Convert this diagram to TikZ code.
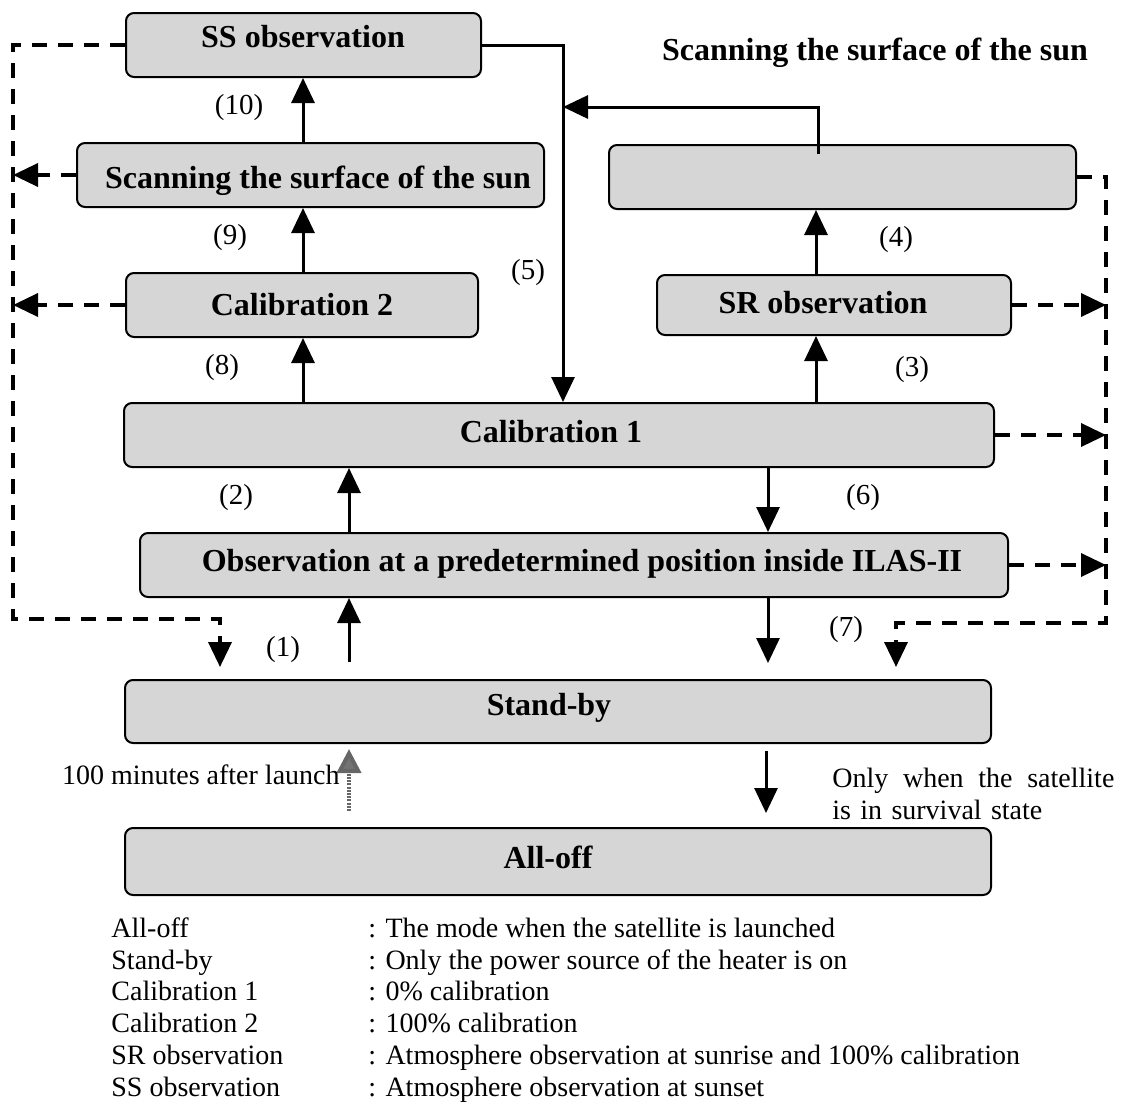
\documentclass[tikz,border=0pt]{standalone}
\usepackage{fontspec}
\setmainfont{Liberation Serif}
\usetikzlibrary{arrows.meta}
\definecolor{boxgray}{gray}{0.84}
\begin{document}
\begin{tikzpicture}[x=0.5pt,y=-0.5pt,
  box/.style={draw, line width=1pt, rounded corners=4pt, fill=boxgray, inner sep=0pt},
  boxtext/.style={font=\fontsize{16}{18}\selectfont\bfseries, inner sep=0pt},
  num/.style={font=\fontsize{14.5}{16}\selectfont, inner sep=0pt},
  note/.style={font=\fontsize{14}{16}\selectfont, inner sep=0pt},
  tip/.style={-{Triangle[length=12.5pt,width=11.5pt]}},
  flow/.style={line width=1.5pt, tip},
  opt/.style={line width=1.8pt, dash pattern=on 7.5pt off 5.5pt, tip},
  launch/.style={line width=2pt, black!60, dash pattern=on 1pt off 0.6pt,
    -{Triangle[length=12pt,width=12pt,fill=black!55,color=black!60]}}]
\useasboundingbox (0,0) rectangle (1122,1103);

% mode boxes
\node[box, minimum width=177.5pt, minimum height=32pt] (ss) at (303.5,45) {};
\node[box, minimum width=233.5pt, minimum height=32pt] (scan) at (310.5,175) {};
\node[box, minimum width=176pt, minimum height=32pt] (cal2) at (302,305) {};
\node[box, minimum width=233.5pt, minimum height=32pt] (blank) at (842.5,177) {};
\node[box, minimum width=177pt, minimum height=30pt] (sr) at (834,305) {};
\node[box, minimum width=435pt, minimum height=32pt] (cal1) at (559,435) {};
\node[box, minimum width=434pt, minimum height=32pt] (obs) at (574,565) {};
\node[box, minimum width=433pt, minimum height=31.5pt] (standby) at (558,711.5) {};
\node[box, minimum width=433pt, minimum height=33.5pt] (alloff) at (558,861.5) {};

% box captions
\node[boxtext] (t-ss) at (303,37) {SS observation};
\node[boxtext] (t-scan) at (318,181) {Scanning the surface of the sun};
\node[boxtext] (t-cal2) at (302,305) {Calibration 2};
\node[boxtext] (t-sr) at (823,303) {SR observation};
\node[boxtext] (t-cal1) at (551,432) {Calibration 1};
\node[boxtext] (t-obs) at (582,564) {Observation at a predetermined position inside ILAS-II};
\node[boxtext] (t-sb) at (549,708) {Stand-by};
\node[boxtext] (t-ao) at (548,857) {All-off};
\node[boxtext] (title) at (875,53) {Scanning the surface of the sun};

% column positions
\coordinate (cl) at (303,0);
\coordinate (cr) at (816,0);
\coordinate (cm) at (349,0);
\coordinate (cd) at (768,0);
\coordinate (j5) at (563,45);
\coordinate (r4) at (818,107);
\coordinate (a1) at (349,662);
\coordinate (a7) at (768,663);
\coordinate (sa) at (766,813);

% transitions
\draw[flow] (cal1.north -| cl) -- (cal2.south -| cl);
\draw[flow] (cal2.north -| cl) -- (scan.south -| cl);
\draw[flow] (scan.north -| cl) -- (ss.south -| cl);
\draw[flow] (cal1.north -| cr) -- (sr.south -| cr);
\draw[flow] (sr.north -| cr) -- (blank.south -| cr);
\draw[flow] (ss.east) -- (j5) -- (j5 |- cal1.north);
\draw[flow] ([yshift=-5pt]blank.north -| r4) -- (r4) -- (r4 -| j5);
\draw[flow] (obs.north -| cm) -- (cal1.south -| cm);
\draw[flow] (a1) -- (obs.south -| a1);
\draw[flow] (cal1.south -| cd) -- (obs.north -| cd);
\draw[flow] (obs.south -| a7) -- (a7);
\draw[flow, shorten <=3.5pt] (standby.south -| sa) -- (sa);
\draw[launch, shorten <=8pt, shorten >=2.5pt] (alloff.north -| cm) -- (standby.south -| cm);

% optional transitions back to stand-by
\coordinate (lb) at (13,619);
\coordinate (le) at (220,667);
\coordinate (rb) at (1106,623);
\coordinate (re) at (896,667);
\draw[opt] (ss.west) -| (lb) -| (le);
\draw[opt] (scan.west) -- (scan.west -| lb);
\draw[opt] (cal2.west) -- (cal2.west -| lb);
\draw[opt] (blank.east) -| (rb) -| (re);
\draw[opt] (sr.east) -- (sr.east -| rb);
\draw[opt] (cal1.east) -- (cal1.east -| rb);
\draw[opt] (obs.east) -- (obs.east -| rb);

% transition numbers
\node[num] (n10) at (239,108) {(10)};
\node[num] (n9) at (230,238) {(9)};
\node[num] (n5) at (528,273) {(5)};
\node[num] (n4) at (896,240) {(4)};
\node[num] (n8) at (222,368) {(8)};
\node[num] (n3) at (912,370) {(3)};
\node[num] (n2) at (236,498) {(2)};
\node[num] (n6) at (863,498) {(6)};
\node[num] (n1) at (283,650) {(1)};
\node[num] (n7) at (846,630) {(7)};

% notes on the stand-by / all-off transitions
\node[note, anchor=east] (n-launch) at (340,775) {100 minutes after launch};
\node[note, anchor=north west, text width=141pt, align=left] (n-surv) at (832,768)
  {Only\hfill when\hfill the\hfill satellite\\is in survival state};

% legend
\node[note, anchor=base west] (k1) at (111,937) {All-off};
\node[note, anchor=base west] (k2) at (111,969) {Stand-by};
\node[note, anchor=base west] (k3) at (111,1000) {Calibration 1};
\node[note, anchor=base west] (k4) at (111,1032) {Calibration 2};
\node[note, anchor=base west] (k5) at (111,1064) {SR observation};
\node[note, anchor=base west] (k6) at (111,1096) {SS observation};
\node[note, anchor=base west] (d1) at (368,937) {: The mode when the satellite is launched};
\node[note, anchor=base west] (d2) at (368,969) {: Only the power source of the heater is on};
\node[note, anchor=base west] (d3) at (368,1000) {: 0\% calibration};
\node[note, anchor=base west] (d4) at (368,1032) {: 100\% calibration};
\node[note, anchor=base west] (d5) at (368,1064) {: Atmosphere observation at sunrise and 100\% calibration};
\node[note, anchor=base west] (d6) at (368,1096) {: Atmosphere observation at sunset};
\end{tikzpicture}
\end{document}
